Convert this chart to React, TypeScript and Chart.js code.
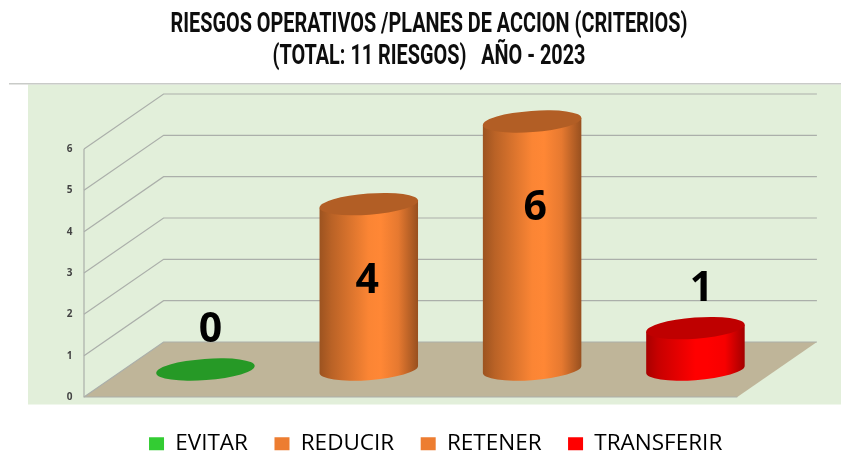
import React, { useEffect, useRef } from "react";
import { Chart, registerables, BarController, BarElement } from "chart.js";

const categories = ["EVITAR", "REDUCIR", "RETENER", "TRANSFERIR"];
const values = [0, 4, 6, 1];
const colors = ["#33CC33", "#ED7D31", "#ED7D31", "#FF0000"];
const yTicks = [0, 1, 2, 3, 4, 5, 6];
const titleLines = [
  "RIESGOS OPERATIVOS /PLANES DE ACCION (CRITERIOS)",
  "(TOTAL: 11 RIESGOS)   AÑO - 2023",
];

const DEPTH_X = 79.6;
const DEPTH_Y = 55;
const TILT = 0.074;
const MINOR_RATIO = 0.215;
const TITLE_WIDTH = 517;

function shade(hex: string, k: number) {
  const n = parseInt(hex.slice(1), 16);
  const c = [(n >> 16) & 255, (n >> 8) & 255, n & 255].map((v) =>
    Math.min(255, Math.round(v * k))
  );
  return `rgb(${c[0]},${c[1]},${c[2]})`;
}

class CylinderElement extends BarElement {
  static id = "cylinder";
  draw(ctx: CanvasRenderingContext2D) {
    const { x, y, base, width } = (this as any).getProps(["x", "y", "base", "width"]);
    const color = (this as any).options.backgroundColor as string;
    const cx = x + DEPTH_X / 2;
    const top = y - DEPTH_Y / 2;
    const bottom = base - DEPTH_Y / 2;
    const a = width / 2 / Math.sqrt(Math.cos(TILT) ** 2 + (MINOR_RATIO * Math.sin(TILT)) ** 2);
    const b = a * MINOR_RATIO;
    const t = Math.atan((b / a) * Math.tan(TILT));
    const ex = a * Math.cos(t) * Math.cos(TILT) + b * Math.sin(t) * Math.sin(TILT);
    const ey = -a * Math.cos(t) * Math.sin(TILT) + b * Math.sin(t) * Math.cos(TILT);
    ctx.save();
    if (bottom - top > 0.5) {
      const g = ctx.createLinearGradient(cx - ex, 0, cx + ex, 0);
      g.addColorStop(0, shade(color, 0.66));
      g.addColorStop(0.12, shade(color, 0.78));
      g.addColorStop(0.5, shade(color, 1.06));
      g.addColorStop(0.62, shade(color, 1.08));
      g.addColorStop(0.8, shade(color, 0.97));
      g.addColorStop(1, shade(color, 0.64));
      ctx.beginPath();
      ctx.moveTo(cx + ex, top + ey);
      ctx.lineTo(cx + ex, bottom + ey);
      ctx.ellipse(cx, bottom, a, b, -TILT, t, t + Math.PI, false);
      ctx.lineTo(cx - ex, top - ey);
      ctx.closePath();
      ctx.fillStyle = g;
      ctx.fill();
    }
    ctx.beginPath();
    ctx.ellipse(cx, top, a, b, -TILT, 0, Math.PI * 2);
    ctx.fillStyle = shade(color, 0.75);
    ctx.fill();
    ctx.restore();
  }
}

class CylinderController extends BarController {
  static id = "cylinder";
  static defaults = { ...(BarController as any).defaults, dataElementType: "cylinder" };
}

Chart.register(...registerables, CylinderElement as any, CylinderController as any);

const stagePlugin = {
  id: "stage",
  beforeDraw(chart: any) {
    const ctx = chart.ctx;
    ctx.save();
    ctx.fillStyle = "#E2EFDA";
    ctx.fillRect(28, 84.5, 813, 320);
    ctx.strokeStyle = "#C9CBC8";
    ctx.lineWidth = 1.6;
    ctx.beginPath();
    ctx.moveTo(9, 83.7);
    ctx.lineTo(841, 83.7);
    ctx.stroke();
    ctx.restore();
  },
  afterLayout(chart: any) {
    const tb = chart.titleBlock;
    tb.left += 60.35;
    tb.right += 60.35;
    if (!tb.__wrapped) {
      tb.__wrapped = true;
      const orig = tb.draw;
      tb.draw = function () {
        const ctx = chart.ctx;
        const cx = (tb.left + tb.right) / 2;
        ctx.save();
        ctx.font = `700 ${tb.options.font.size}px ${tb.options.font.family}`;
        const k = TITLE_WIDTH / ctx.measureText(titleLines[0]).width;
        ctx.translate(cx, 0);
        ctx.scale(k, 1);
        ctx.translate(-cx, 0);
        orig.call(tb);
        ctx.restore();
      };
    }
    chart.legend.left += 67;
    chart.legend.right += 67;
    chart.legend.top += 9;
    chart.legend.bottom += 9;
  },
  beforeDatasetsDraw(chart: any) {
    const { ctx, chartArea } = chart;
    const { left, right, bottom } = chartArea;
    const yS = chart.scales.y;
    ctx.save();
    ctx.fillStyle = "#BFB599";
    ctx.beginPath();
    ctx.moveTo(left, bottom);
    ctx.lineTo(right, bottom);
    ctx.lineTo(right + DEPTH_X, bottom - DEPTH_Y);
    ctx.lineTo(left + DEPTH_X, bottom - DEPTH_Y);
    ctx.closePath();
    ctx.fill();
    ctx.strokeStyle = "#ABAFAA";
    ctx.lineWidth = 1.2;
    yTicks.forEach((v) => {
      const py = yS.getPixelForValue(v);
      ctx.beginPath();
      ctx.moveTo(left, py);
      ctx.lineTo(left + DEPTH_X, py - DEPTH_Y);
      ctx.lineTo(right + DEPTH_X, py - DEPTH_Y);
      ctx.stroke();
    });
    ctx.beginPath();
    ctx.moveTo(left, yS.getPixelForValue(6));
    ctx.lineTo(left, bottom);
    ctx.lineTo(right, bottom);
    ctx.stroke();
    ctx.restore();
  },
  afterDatasetsDraw(chart: any) {
    const { ctx } = chart;
    const meta = chart.getDatasetMeta(0);
    const nudges = [
      [5, -39],
      [-1.5, 77.5],
      [3, 87],
      [6, -39],
    ];
    ctx.save();
    ctx.fillStyle = "#000";
    ctx.font = "700 41px 'Open Sans'";
    ctx.textAlign = "center";
    ctx.textBaseline = "middle";
    meta.data.forEach((el: any, i: number) => {
      ctx.fillText(
        String(values[i]),
        el.x + DEPTH_X / 2 + nudges[i][0],
        el.y - DEPTH_Y / 2 + nudges[i][1]
      );
    });
    ctx.restore();
  },
};

export default function App() {
  const ref = useRef<HTMLCanvasElement>(null);
  useEffect(() => {
    document.body.style.margin = "0";
    const chart = new Chart(ref.current!, {
      type: "cylinder" as any,
      data: {
        labels: categories,
        datasets: [
          {
            data: values,
            backgroundColor: colors,
            borderWidth: 0,
            barPercentage: 0.603,
            categoryPercentage: 1,
            clip: false,
          } as any,
        ],
      },
      plugins: [stagePlugin],
      options: {
        responsive: false,
        animation: false,
        layout: { padding: { left: 0, right: 103.7, top: 9, bottom: 6 } },
        plugins: {
          title: {
            display: true,
            text: titleLines,
            color: "#0d0d0d",
            font: { family: "Roboto", weight: "bold", size: 27, lineHeight: 1.2 },
            padding: { top: 0, bottom: 75.2 },
          },
          legend: {
            display: true,
            position: "bottom",
            labels: {
              boxWidth: 15,
              boxHeight: 13,
              padding: 26.5,
              color: "#222",
              font: { family: "'Open Sans'", size: 22.5 },
              generateLabels: (c: any) =>
                c.data.labels.map((l: string, i: number) => ({
                  text: l,
                  fillStyle: colors[i],
                  strokeStyle: colors[i],
                  lineWidth: 0,
                  hidden: false,
                  index: i,
                })),
            },
          },
          tooltip: { enabled: false },
        },
        scales: {
          x: { display: false, grid: { display: false } },
          y: {
            min: 0,
            max: 6,
            afterFit: (s: any) => {
              s.width = 84;
            },
            grid: { display: false },
            border: { display: false },
            ticks: {
              stepSize: 1,
              padding: 3.5,
              color: "#444",
              font: { family: "'Open Sans'", size: 10, weight: "bold" },
            },
          },
        },
      } as any,
    });
    return () => chart.destroy();
  }, []);
  return (
    <div style={{ position: "fixed", left: 0, top: 0, width: 841, height: 462, overflow: "hidden" }}>
      <canvas ref={ref} width={841} height={462} style={{ display: "block" }} />
    </div>
  );
}
